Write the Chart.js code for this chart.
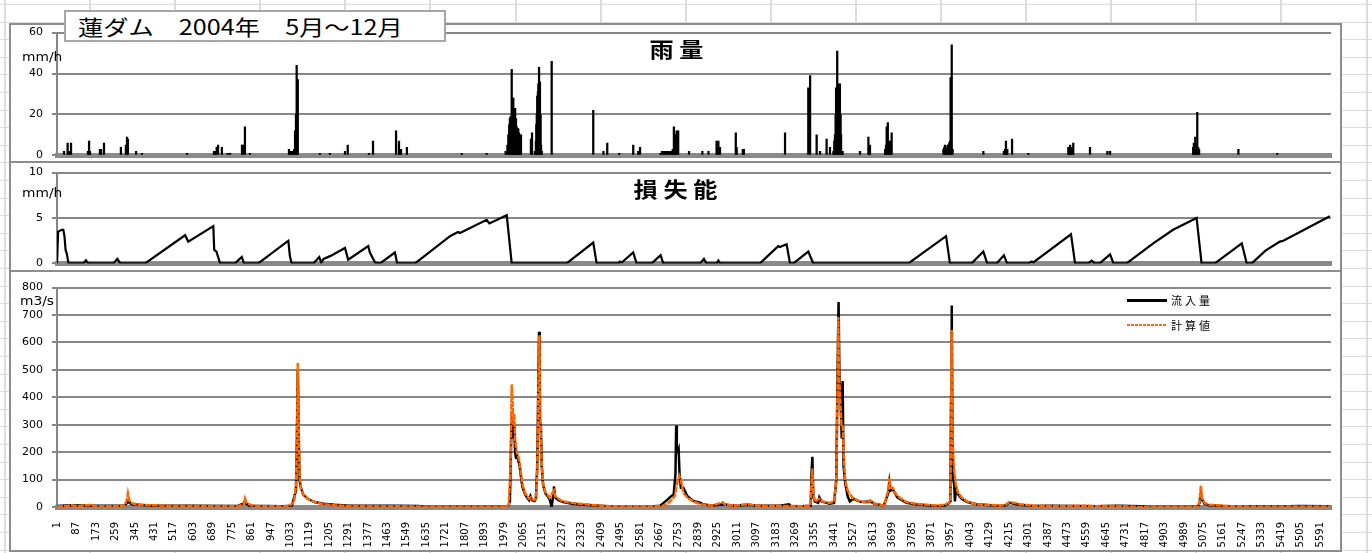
<!DOCTYPE html>
<html>
<head>
<meta charset="utf-8">
<script src="https://cdn.jsdelivr.net/npm/chart.js@4.4.1/dist/chart.umd.min.js"></script>
<style>
body { margin: 0; width: 1372px; height: 553px; overflow: hidden; background: #fff; position: relative; font-family: "DejaVu Sans", sans-serif; }
#sheet { position: absolute; left: 0; top: 0; width: 1372px; height: 553px;
  background-image: repeating-linear-gradient(to right, #dcdcdc 0 2px, transparent 2px 85.1px),
                    repeating-linear-gradient(to bottom, #dcdcdc 0 1px, transparent 1px 17.6px);
  background-position: 4px 0, 0 4px; }
#frame { position: absolute; left: 9px; top: 23px; width: 1329px; height: 525px; border: 2px solid #8c8c8c; background: #fff; }
.sep { position: absolute; left: 11px; width: 1329px; height: 2px; background: #8c8c8c; }
canvas { position: absolute; left: 10px; }
.unit { position: absolute; font-size: 12px; line-height: 12px; transform: scaleX(1.15); transform-origin: left; }
.ptitle { position: absolute; width: 200px; text-align: center; font-family: "Noto Sans CJK JP"; font-weight: bold; font-size: 21px; line-height: 22px; letter-spacing: 5px; padding-left: 5px; transform: scaleX(1.15); }
#title { position: absolute; left: 64px; top: 10px; width: 378px; height: 28px; border: 2px solid #a6a6a6; background: #fff; }
#title span { position: absolute; left: 12px; top: 1px; font-family: "Noto Sans CJK JP"; font-size: 21px; line-height: 26px; white-space: nowrap; transform: scaleX(1.2); transform-origin: left; }
.lg-line { position: absolute; left: 1127px; width: 40px; }
.lg-text { position: absolute; left: 1171px; font-family: "Noto Sans CJK JP"; font-size: 11px; line-height: 14px; letter-spacing: 3px; }
</style>
</head>
<body>
<div id="sheet"></div>
<div id="frame"></div>
<div class="sep" style="top:161px"></div>
<div class="sep" style="top:270px"></div>
<canvas id="rain" width="1330" height="154" style="top:17px"></canvas>
<canvas id="loss" width="1330" height="122" style="top:157px"></canvas>
<canvas id="flow" width="1330" height="279" style="top:272px"></canvas>
<div id="title"><span>蓮ダム　2004年　5月～12月</span></div>
<div class="ptitle" style="left:574px; top:37px">雨量</div>
<div class="ptitle" style="left:573px; top:177px">損失能</div>
<div class="unit" style="left:22px; top:51px">mm/h</div>
<div class="unit" style="left:22px; top:187px">mm/h</div>
<div class="unit" style="left:20px; top:295px">m3/s</div>
<div class="lg-line" style="top:299px; height:3px; background:#000"></div>
<div class="lg-text" style="top:293px">流入量</div>
<div class="lg-line" style="top:324px; height:2px; background:repeating-linear-gradient(to right, #ff6600 0 3px, transparent 3px 4px)"></div>
<div class="lg-text" style="top:318px">計算値</div>
<script>
// x axis: hour number from the start of the record
const tickLabels = [1, 87, 173, 259, 345, 431, 517, 603, 689, 775, 861, 947, 1033, 1119, 1205, 1291, 1377, 1463, 1549, 1635,
    1721, 1807, 1893, 1979, 2065, 2151, 2237, 2323, 2409, 2495, 2581, 2667, 2753, 2839, 2925, 3011, 3097, 3183, 3269, 3355,
    3441, 3527, 3613, 3699, 3785, 3871, 3957, 4043, 4129, 4215, 4301, 4387, 4473, 4559, 4645, 4731, 4817, 4903, 4989, 5075,
    5161, 5247, 5333, 5419, 5505, 5591];

// 雨量 [hour, mm/h]
const rainfall = [
    [31, 2], [47, 6], [53, 2], [62, 6], [137, 2], [142, 7], [146, 2], [190, 3], [195, 3], [208, 6],
    [283, 4], [305, 5], [310, 9], [314, 8], [350, 2], [376, 1], [576, 1],
    [695, 2], [700, 2], [707, 4], [713, 5], [730, 4], [755, 1], [766, 1], [819, 5], [823, 5], [832, 14], [854, 1],
    [1027, 3], [1031, 2], [1036, 2], [1040, 2], [1045, 2], [1050, 3], [1054, 12], [1058, 20], [1061, 44], [1066, 37],
    [1164, 1], [1208, 1], [1275, 2], [1287, 5], [1381, 1], [1399, 7],
    [1501, 12], [1514, 7], [1518, 3], [1523, 3], [1549, 4], [1792, 1], [1902, 1],
    [1986, 2], [1994, 5], [1998, 10], [2002, 15], [2005, 18], [2008, 19], [2010, 19], [2013, 42], [2015, 20], [2017, 28],
    [2020, 28], [2022, 19], [2024, 20], [2026, 18], [2028, 23], [2030, 15], [2032, 18], [2035, 14], [2038, 13], [2040, 13],
    [2042, 13], [2045, 11], [2047, 10], [2050, 10], [2054, 10], [2098, 8], [2103, 11],
    [2116, 2], [2120, 7], [2122, 15], [2124, 20], [2126, 29], [2129, 31], [2131, 35], [2134, 43], [2136, 33], [2138, 36],
    [2141, 20], [2143, 5], [2146, 2], [2190, 46], [2374, 22], [2419, 2], [2436, 6], [2489, 1],
    [2551, 5], [2573, 2], [2581, 4],
    [2672, 1], [2678, 2], [2684, 2], [2690, 2], [2696, 2], [2702, 2], [2708, 2], [2714, 2], [2720, 2], [2726, 3],
    [2731, 14], [2736, 10], [2740, 6], [2743, 12], [2746, 9], [2750, 12],
    [2798, 2], [2857, 2], [2884, 2], [2920, 7], [2924, 4], [2928, 7], [2935, 4],
    [3005, 11], [3009, 4], [3036, 3], [3041, 3], [3223, 11], [3326, 33], [3334, 39], [3363, 10], [3378, 2], [3407, 8], [3422, 4],
    [3437, 2], [3441, 7], [3444, 10], [3447, 20], [3449, 33], [3452, 28], [3454, 51], [3457, 30], [3459, 35], [3461, 30],
    [3463, 28], [3466, 35], [3469, 20], [3471, 10], [3474, 2], [3478, 2],
    [3555, 2], [3592, 9], [3596, 4], [3599, 5],
    [3666, 3], [3670, 5], [3673, 14], [3678, 16], [3683, 7], [3688, 7], [3692, 4], [3695, 11],
    [3924, 3], [3928, 4], [3931, 5], [3935, 4], [3939, 4], [3943, 5], [3946, 5], [3950, 6], [3953, 7], [3956, 38], [3961, 54], [3965, 3],
    [4101, 2], [4192, 2], [4197, 3], [4201, 7], [4204, 3], [4207, 3], [4228, 8], [4300, 1],
    [4477, 4], [4481, 3], [4485, 5], [4488, 4], [4492, 3], [4496, 3], [4499, 6], [4573, 4], [4650, 2], [4662, 2],
    [5030, 4], [5033, 6], [5036, 5], [5039, 9], [5043, 5], [5048, 21], [5052, 4], [5056, 3], [5230, 3], [5402, 1]
];

// 損失能 [hour, mm/h]
const lossRate = [
    [0, 0], [5, 3.5], [21, 3.7], [28, 3.7], [33, 3.0], [38, 1.5], [44, 1.0], [50, 0.1], [52, 0],
    [117, 0], [128, 0.35], [138, 0], [250, 0], [267, 0.5], [280, 0],
    [390, 0], [567, 3.1], [581, 2.4], [692, 4.1], [696, 1.5], [706, 1.3], [722, 0],
    [788, 0], [818, 0.7], [828, 0], [891, 0], [1024, 2.5], [1031, 0.8], [1039, 0],
    [1135, 0], [1161, 0.7], [1170, 0.1], [1180, 0.5], [1209, 0.8], [1225, 1.0], [1275, 1.7], [1289, 0.4],
    [1378, 1.9], [1385, 1.2], [1408, 0.1], [1430, 0], [1496, 1.2], [1506, 0],
    [1585, 0], [1740, 3.0], [1775, 3.45], [1784, 3.35], [1902, 4.8], [1914, 4.4], [1991, 5.3], [2013, 0],
    [2256, 0], [2374, 2.3], [2389, 0], [2485, 0], [2492, 0.2], [2500, 0.1], [2551, 1.2], [2566, 0],
    [2633, 0], [2672, 0.9], [2684, 0], [2847, 0], [2864, 0.5], [2875, 0], [2920, 0], [2928, 0.3], [2935, 0],
    [3112, 0], [3193, 1.9], [3200, 1.8], [3230, 2.1], [3245, 0], [3260, 0], [3326, 1.3], [3348, 0],
    [3769, 0], [3936, 3.0], [3953, 0], [4049, 0], [4101, 1.3], [4118, 0], [4160, 0], [4192, 0.9], [4206, 0],
    [4300, 0], [4315, 0.2], [4322, 0.1], [4489, 3.2], [4507, 0],
    [4566, 0], [4580, 0.3], [4595, 0], [4616, 0], [4662, 1.0], [4677, 0],
    [4735, 0], [4853, 2.2], [4941, 3.7], [5045, 5.0], [5067, 0],
    [5126, 0], [5245, 2.2], [5267, 0], [5289, 0], [5350, 1.4], [5414, 2.4], [5429, 2.5], [5635, 5.2]
];

// 流入量 [hour, m3/s]
const inflow = [
    [0, 4], [65, 6], [146, 5], [300, 5], [314, 20], [330, 10], [420, 5], [600, 5], [800, 4], [832, 15], [850, 5],
    [1000, 3], [1040, 5], [1058, 60], [1062, 250], [1066, 500], [1070, 250], [1074, 95], [1080, 70], [1090, 45],
    [1110, 30], [1140, 18], [1180, 12], [1230, 8], [1300, 5], [1400, 5], [1500, 5], [1600, 4], [1640, 1], [1800, 0],
    [1995, 0], [2005, 20], [2012, 300], [2017, 333], [2020, 250], [2024, 300], [2028, 200], [2032, 180], [2036, 190],
    [2042, 170], [2048, 150], [2054, 110], [2060, 75], [2070, 50], [2080, 35], [2090, 25], [2096, 40], [2104, 25],
    [2114, 22], [2120, 30], [2126, 150], [2130, 400], [2134, 639], [2136, 500], [2138, 310], [2142, 300], [2146, 150],
    [2152, 80], [2162, 50], [2180, 30], [2190, 0], [2196, 40], [2200, 75], [2205, 35], [2220, 25], [2240, 18],
    [2280, 12], [2330, 8], [2400, 5], [2500, 0], [2600, 0], [2670, 5], [2700, 25], [2720, 40], [2730, 45],
    [2738, 120], [2741, 297], [2744, 200], [2748, 200], [2752, 210], [2756, 120], [2762, 70], [2773, 70], [2790, 40],
    [2817, 22], [2850, 15], [2860, 10], [2900, 5], [2947, 10], [3000, 5], [3060, 8], [3100, 5], [3200, 5],
    [3240, 10], [3250, 3], [3300, 3], [3337, 5], [3340, 120], [3344, 183], [3348, 40], [3355, 20], [3370, 15],
    [3375, 35], [3385, 20], [3420, 12], [3440, 15], [3450, 100], [3455, 450], [3460, 747], [3464, 470], [3468, 420],
    [3474, 250], [3478, 459], [3482, 150], [3489, 90], [3500, 40], [3510, 20], [3525, 30], [3560, 18], [3600, 20],
    [3620, 12], [3660, 5], [3680, 50], [3685, 90], [3690, 60], [3700, 65], [3720, 35], [3760, 15], [3800, 10],
    [3850, 6], [3900, 3], [3930, 5], [3945, 12], [3955, 20], [3958, 400], [3961, 735], [3964, 250], [3968, 100],
    [3972, 80], [3975, 20], [3980, 70], [3990, 45], [4005, 30], [4030, 18], [4070, 10], [4175, 4], [4200, 6],
    [4215, 15], [4240, 12], [4260, 8], [4320, 4], [4400, 5], [4500, 4], [4600, 3], [4700, 5], [4800, 3], [4830, 0],
    [5050, 0], [5058, 15], [5064, 50], [5070, 25], [5080, 12], [5100, 6], [5160, 4], [5300, 3], [5400, 2],
    [5500, 4], [5635, 3]
];

// 計算値 [hour, m3/s]
const calculated = [
    [0, 2], [40, 3], [65, 6], [90, 3], [146, 7], [170, 3], [250, 3], [300, 5], [310, 30], [314, 50], [320, 25],
    [330, 14], [360, 8], [420, 6], [500, 4], [600, 4], [700, 3], [800, 3], [826, 10], [832, 32], [840, 15], [860, 6],
    [900, 3], [1000, 2], [1030, 4], [1050, 20], [1058, 80], [1062, 250], [1066, 525], [1070, 300], [1074, 120],
    [1080, 70], [1090, 45], [1110, 30], [1140, 18], [1180, 10], [1230, 6], [1300, 4], [1400, 3], [1500, 3],
    [1600, 2], [1640, 1], [1800, 0], [1990, 0], [2000, 10], [2008, 150], [2013, 447], [2017, 380], [2020, 300],
    [2024, 340], [2028, 250], [2032, 220], [2036, 200], [2042, 185], [2048, 160], [2054, 120], [2060, 85],
    [2070, 55], [2080, 40], [2090, 30], [2098, 35], [2104, 28], [2114, 25], [2120, 30], [2126, 120], [2130, 380],
    [2134, 600], [2136, 627], [2138, 450], [2142, 250], [2146, 150], [2152, 85], [2162, 55], [2180, 35], [2200, 60],
    [2205, 40], [2220, 30], [2240, 20], [2280, 15], [2330, 10], [2389, 6], [2420, 4], [2500, 2], [2600, 2],
    [2680, 3], [2700, 10], [2720, 25], [2735, 40], [2745, 85], [2755, 114], [2762, 100], [2773, 50], [2790, 35],
    [2817, 20], [2850, 10], [2900, 5], [2947, 17], [2960, 8], [3000, 5], [3030, 8], [3060, 10], [3100, 5],
    [3200, 4], [3300, 3], [3335, 5], [3340, 80], [3344, 140], [3348, 50], [3355, 20], [3375, 30], [3390, 20],
    [3420, 15], [3440, 20], [3450, 100], [3455, 400], [3459, 693], [3463, 470], [3468, 380], [3473, 300],
    [3478, 300], [3482, 200], [3489, 100], [3500, 60], [3525, 30], [3560, 20], [3590, 15], [3600, 25], [3620, 12],
    [3660, 5], [3680, 60], [3685, 107], [3690, 70], [3700, 70], [3708, 55], [3720, 40], [3760, 18], [3800, 12],
    [3850, 8], [3900, 5], [3930, 8], [3945, 15], [3955, 20], [3958, 300], [3961, 645], [3964, 300], [3967, 200],
    [3972, 130], [3980, 75], [3990, 50], [4005, 35], [4030, 20], [4070, 10], [4175, 5], [4200, 8], [4215, 18],
    [4240, 15], [4260, 10], [4320, 5], [4400, 4], [4440, 3], [4540, 5], [4600, 3], [4680, 4], [4750, 2], [4790, 0],
    [5050, 0], [5058, 20], [5064, 78], [5070, 30], [5080, 15], [5100, 8], [5160, 5], [5200, 3], [5300, 2],
    [5500, 2], [5635, 2]
];

Chart.defaults.font.family = '"DejaVu Sans", sans-serif';
Chart.defaults.color = '#000';

const gridGray = '#878787';

function toPoints(pairs) {
    return pairs.map(([h, v]) => ({ x: h, y: v }));
}

function xAxis(showLabels) {
    return {
        type: 'linear',
        min: 0,
        max: 5640,
        offset: false,
        grid: { display: false },
        border: { display: true, color: '#8a8a8a', width: 5 },
        ticks: {
            display: showLabels,
            autoSkip: false,
            minRotation: 90,
            maxRotation: 90,
            padding: 7,
            font: { size: 10 },
            callback: (v) => String(v)
        },
        afterBuildTicks: (s) => { s.ticks = tickLabels.map((v) => ({ value: v })); },
        afterFit: (s) => { s.height = showLabels ? 44 : 0; }
    };
}

function yAxis(max, step) {
    return {
        min: 0,
        max: max,
        ticks: { stepSize: step, padding: 9, font: { size: 11 } },
        grid: { color: gridGray, lineWidth: 2, tickLength: 5, drawTicks: true },
        border: { display: true, color: gridGray, width: 2 },
        afterFit: (s) => { s.width = 47; }
    };
}

function baseOptions(ymax, ystep, showLabels, padding) {
    return {
        responsive: false,
        animation: false,
        layout: { padding: padding },
        plugins: { legend: { display: false }, tooltip: { enabled: false } },
        scales: { x: xAxis(showLabels), y: yAxis(ymax, ystep) }
    };
}

new Chart(document.getElementById('rain'), {
    type: 'bar',
    data: {
        datasets: [{
            label: '雨量',
            data: toPoints(rainfall),
            backgroundColor: '#000',
            borderWidth: 0,
            barThickness: 1.6
        }]
    },
    options: baseOptions(60, 20, false, { top: 0, right: 9, bottom: 0, left: 0 })
});

new Chart(document.getElementById('loss'), {
    type: 'line',
    data: {
        datasets: [{
            label: '損失能',
            data: toPoints(lossRate),
            borderColor: '#000',
            borderWidth: 2.2,
            pointRadius: 0,
            tension: 0
        }]
    },
    options: baseOptions(10, 5, false, { top: 0, right: 9, bottom: 0, left: 0 })
});

new Chart(document.getElementById('flow'), {
    type: 'line',
    data: {
        datasets: [{
            label: '流入量',
            data: toPoints(inflow),
            borderColor: '#000',
            borderWidth: 2.5,
            pointRadius: 0,
            tension: 0,
            order: 1
        }, {
            label: '計算値',
            data: toPoints(calculated),
            borderColor: '#ff6600',
            borderWidth: 2.5,
            borderDash: [6, 1],
            pointRadius: 0,
            tension: 0,
            order: 0
        }]
    },
    options: baseOptions(800, 100, true, { top: 13, right: 9, bottom: 0, left: 0 })
});
</script>
</body>
</html>
